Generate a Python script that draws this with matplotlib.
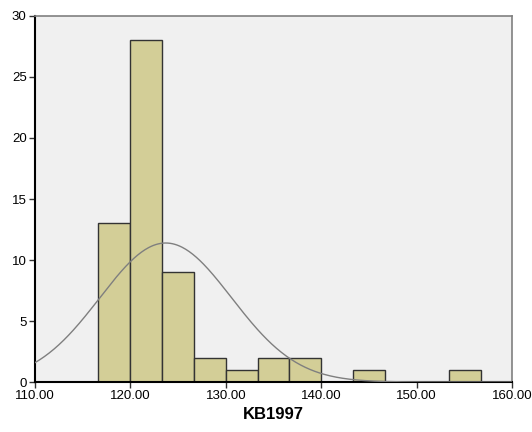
import numpy as np
import matplotlib
matplotlib.use('Agg')
import matplotlib.pyplot as plt

# histogram of KB1997
bin_start = 116.63
bin_width = 3.34
counts = [13, 28, 9, 2, 1, 2, 2, 0, 1, 0, 0, 1]
mean_v = 123.7
sd_v = 6.9
n_obs = sum(counts)

x_ticks = [110, 120, 130, 140, 150, 160]
y_ticks = [0, 5, 10, 15, 20, 25, 30]

plt.rcParams['font.family'] = ['Liberation Sans', 'DejaVu Sans']

fig = plt.figure(figsize=(5.32, 4.32), dpi=100)
ax = fig.add_axes([0.0658, 0.1157, 0.8966, 0.8473])
ax.set_facecolor('#F0F0F0')

lefts = bin_start + bin_width * np.arange(len(counts))
ax.bar(lefts, counts, width=bin_width, align='edge', color='#D3CE97',
       edgecolor='#333333', linewidth=1.0, zorder=2)

xs = np.linspace(110, 160, 400)
ys = n_obs * bin_width / (sd_v * np.sqrt(2 * np.pi)) * np.exp(-(xs - mean_v) ** 2 / (2 * sd_v ** 2))
ax.plot(xs, ys, color='#7F7F7F', lw=1.0, zorder=3)

ax.set_xlim(110, 160)
ax.set_ylim(0, 30)
ax.set_xticks(x_ticks)
ax.set_xticklabels(['%.2f' % v for v in x_ticks])
ax.set_yticks(y_ticks)
ax.tick_params(axis='both', labelsize=9.5, length=4, width=1, color='#333333', pad=2)

ax.spines['left'].set_color('black')
ax.spines['bottom'].set_color('black')
ax.spines['left'].set_linewidth(1.5)
ax.spines['bottom'].set_linewidth(1.5)
ax.spines['top'].set_color('#808080')
ax.spines['right'].set_color('#808080')
ax.spines['top'].set_linewidth(1.2)
ax.spines['right'].set_linewidth(1.2)

ax.set_xlabel('KB1997', fontsize=12, fontweight='bold', labelpad=3)

plt.savefig('out.png', dpi=100)
plt.close()
